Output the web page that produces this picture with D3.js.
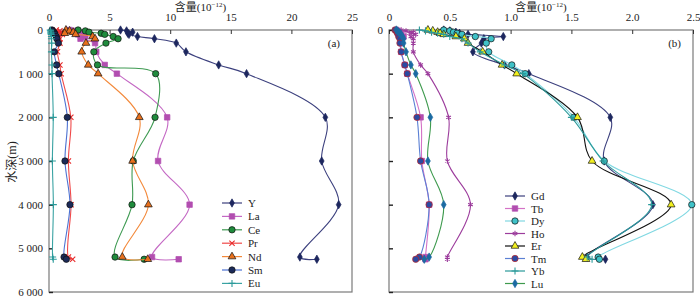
<!DOCTYPE html>
<html>
<head>
<meta charset="utf-8">
<script src="https://cdn.jsdelivr.net/npm/d3@7"></script>
<style>
  body { margin: 0; background: #fff; }
</style>
</head>
<body>
<svg id="chart" width="700" height="299"></svg>
<script>
// sampling depths (m)
const depths = [0, 20, 50, 75, 100, 150, 200, 300, 500, 800, 1000, 2000, 3000, 4000, 5200, 5250];

// panel (a) contents, 10^-12
const Y  = [5.9, 6.4, 6.9, 6.5, 6.6, 7.3, 8.7, 10.5, 11.3, 14.0, 16.3, 22.8, 22.5, 23.9, 20.7, 22.1];
const La = [1.7, 2.2, 2.5, 2.8, 2.4, 3.0, 2.6, 3.8, 3.9, 4.6, 5.6, 9.75, 9.0, 11.6, 8.5, 10.7];
const Ce = [2.4, 3.0, 3.3, 4.3, 4.6, 5.3, 5.7, 4.7, 3.7, 4.0, 8.8, 8.75, 6.95, 6.85, 5.45, 7.85];
const Pr = [0.6, 0.9, 1.0, 0.9, 1.1, 0.8, 0.9, 0.9, 0.7, 0.9, 1.0, 1.8, 1.6, 1.82, 1.6, 1.95];
const Nd = [1.4, 1.7, 2.0, 1.3, 2.2, 3.6, 3.8, 3.05, 2.7, 3.24, 4.05, 7.45, 6.9, 8.2, 6.05, 8.15];
const Sm = [0.25, 0.3, 0.4, 0.45, 0.5, 0.6, 0.65, 0.77, 0.44, 0.63, 0.8, 1.51, 1.32, 1.73, 1.24, 1.43];
const Eu = [0.1, 0.12, 0.15, 0.15, 0.18, 0.2, 0.2, 0.22, 0.2, 0.25, 0.25, 0.35, 0.28, 0.36, 0.3, 0.35];

// panel (b) contents, 10^-12
const Gd = [0.45, 0.5, 0.55, 0.58, 0.65, 0.94, 0.78, 0.76, 0.69, 0.95, 1.15, 1.82, 1.77, 2.17, 1.63, 1.78];
const Tb = [0.06, 0.07, 0.08, 0.09, 0.1, 0.12, 0.1, 0.1, 0.1, 0.13, 0.15, 0.26, 0.27, 0.33, 0.3, 0.3];
const Dy = [0.45, 0.5, 0.53, 0.56, 0.6, 0.71, 0.84, 0.8, 0.82, 1.01, 1.12, 1.52, 1.77, 2.49, 1.72, 1.73];
const Ho = [0.1, 0.14, 0.2, 0.17, 0.22, 0.18, 0.2, 0.2, 0.2, 0.26, 0.32, 0.49, 0.48, 0.67, 0.48, 0.48];
const Er = [0.32, 0.36, 0.4, 0.42, 0.45, 0.55, 0.62, 0.65, 0.77, 0.93, 1.05, 1.55, 1.67, 2.32, 1.59, 1.62];
const Tm = [0.05, 0.06, 0.07, 0.07, 0.08, 0.08, 0.09, 0.09, 0.1, 0.13, 0.15, 0.23, 0.26, 0.33, 0.25, 0.22];
const Yb = [0.25, 0.3, 0.35, 0.4, 0.45, 0.5, 0.6, 0.65, 0.75, 0.95, 1.1, 1.5, 1.76, 2.16, 1.63, 1.67];
const Lu = [0.06, 0.07, 0.08, 0.09, 0.1, 0.11, 0.12, 0.12, 0.14, 0.18, 0.22, 0.34, 0.32, 0.45, 0.33, 0.29];

const depthTicks = [0, 1000, 2000, 3000, 4000, 5000, 6000];
const ticksA = [0, 5, 10, 15, 20, 25];
const ticksB = [0, 0.5, 1.0, 1.5, 2.0, 2.5];

const FONT = "'Liberation Serif', 'DejaVu Serif', 'Times New Roman', 'Noto Sans CJK SC', serif";

const svg = d3.select("#chart");

const panels = [
    {
        tag: "(a)", x0: 49, x1: 352, max: 25, ticks: ticksA, fmt: d3.format("d"), depthLabels: true,
        legendX: 222, legendY: 203, legendStep: 13.4,
        series: [
            {name: "Y",  v: Y,  line: "#3c407e", fill: "#1d275e", stroke: "#1d275e", sym: d3.symbolDiamond, size: 20},
            {name: "La", v: La, line: "#c468c4", fill: "#b24eb0", stroke: "#b24eb0", sym: d3.symbolSquare, size: 30},
            {name: "Ce", v: Ce, line: "#3e9a52", fill: "#1f8b3c", stroke: "#111", sym: d3.symbolCircle, size: 32},
            {name: "Pr", v: Pr, line: "#f04a4a", fill: "none", stroke: "#e82a2a", sym: d3.symbolTimes, size: 20},
            {name: "Nd", v: Nd, line: "#f3893a", fill: "#e8701c", stroke: "#111", sym: d3.symbolTriangle, size: 26},
            {name: "Sm", v: Sm, line: "#4d72d2", fill: "#1b2a58", stroke: "#111", sym: d3.symbolCircle, size: 32},
            {name: "Eu", v: Eu, line: "#3aa3a3", fill: "none", stroke: "#2a9a9a", sym: d3.symbolPlus, size: 18}
        ]
    },
    {
        tag: "(b)", x0: 389, x1: 693, max: 2.5, ticks: ticksB, fmt: d => d === 0 ? "0" : d3.format(".1f")(d), depthLabels: false,
        legendX: 505, legendY: 196, legendStep: 12.5,
        series: [
            {name: "Gd", v: Gd, line: "#3c407e", fill: "#1d275e", stroke: "#1d275e", sym: d3.symbolDiamond, size: 20},
            {name: "Tb", v: Tb, line: "#d472c6", fill: "#b24eb0", stroke: "#b24eb0", sym: d3.symbolSquare, size: 30},
            {name: "Dy", v: Dy, line: "#80d8e2", fill: "#3fc2c8", stroke: "#111", sym: d3.symbolCircle, size: 32},
            {name: "Ho", v: Ho, line: "#9c3c9c", fill: "none", stroke: "#9c3c9c", sym: d3.symbolAsterisk, size: 20},
            {name: "Er", v: Er, line: "#111", fill: "#f2f020", stroke: "#111", sym: d3.symbolTriangle, size: 26},
            {name: "Tm", v: Tm, line: "#5b80d4", fill: "#2c4aa2", stroke: "#c42222", sym: d3.symbolCircle, size: 32},
            {name: "Yb", v: Yb, line: "#2b9a9a", fill: "none", stroke: "#2b9a9a", sym: d3.symbolPlus, size: 18},
            {name: "Lu", v: Lu, line: "#3e9a4e", fill: "#1b6aa2", stroke: "#1b6aa2", sym: d3.symbolDiamond, size: 20}
        ]
    }
];

const y = d3.scaleLinear().domain([0, 6000]).range([30, 292]);

const drawMarker = (g, s, cx, cy) => {
    g.append("path")
        .attr("d", d3.symbol().type(s.sym).size(s.size)())
        .attr("transform", "translate(" + cx + "," + cy + ")")
        .attr("fill", s.fill)
        .attr("stroke", s.stroke)
        .attr("stroke-width", s.fill === "none" ? 1.1 : 0.7);
};

panels.forEach(p => {
    const x = d3.scaleLinear().domain([0, p.max]).range([p.x0, p.x1]);
    const g = svg.append("g");

    // frame
    g.append("rect")
        .attr("x", p.x0).attr("y", 30)
        .attr("width", p.x1 - p.x0).attr("height", 292 - 30)
        .attr("fill", "none").attr("stroke", "#7a7a7a").attr("stroke-width", 1.2);

    // top axis
    const xa = g.append("g")
        .attr("transform", "translate(0,30)")
        .call(d3.axisTop(x).tickValues(p.ticks).tickFormat(p.fmt).tickSizeInner(-4).tickSizeOuter(0).tickPadding(9));
    xa.select(".domain").remove();
    xa.selectAll("line").attr("stroke", "#333");
    xa.selectAll("text").attr("font-size", 11).attr("fill", "#222");

    // depth axis
    const ya = g.append("g")
        .attr("transform", "translate(" + p.x0 + ",0)")
        .call(d3.axisLeft(y).tickValues(depthTicks)
            .tickFormat(d => (p.depthLabels || d === 0) ? d3.format(",")(d).replace(",", " ") : "")
            .tickSizeInner(-4).tickSizeOuter(0).tickPadding(6));
    ya.select(".domain").remove();
    ya.selectAll("line").attr("stroke", "#222").attr("stroke-width", 1.4);
    ya.selectAll("text").attr("font-size", 11).attr("fill", "#222");

    // title
    const t = g.append("text")
        .attr("x", (p.x0 + p.x1) / 2).attr("y", 11)
        .attr("text-anchor", "middle").attr("font-size", 11).attr("fill", "#222");
    t.append("tspan").text("含量(10");
    t.append("tspan").text("−12").attr("font-size", 7).attr("dy", -4);
    t.append("tspan").text(")").attr("dy", 4);

    g.append("text")
        .attr("x", p.x1 - 12).attr("y", 47)
        .attr("text-anchor", "end").attr("font-size", 11).attr("fill", "#222")
        .text(p.tag);

    // series
    const line = d3.line()
        .x(d => x(d[0]))
        .y(d => y(d[1]))
        .curve(d3.curveCatmullRom.alpha(0.5));

    p.series.forEach(s => {
        const pts = s.v.map((v, i) => [v, depths[i]]);
        g.append("path")
            .datum(pts)
            .attr("d", line)
            .attr("fill", "none")
            .attr("stroke", s.line)
            .attr("stroke-width", 1.1);
        pts.forEach(d => drawMarker(g, s, x(d[0]), y(d[1])));
    });

    // legend
    p.series.forEach((s, i) => {
        const ly = p.legendY + i * p.legendStep;
        g.append("line")
            .attr("x1", p.legendX).attr("x2", p.legendX + 20)
            .attr("y1", ly).attr("y2", ly)
            .attr("stroke", s.line).attr("stroke-width", 1.2);
        drawMarker(g, s, p.legendX + 10, ly);
        g.append("text")
            .attr("x", p.legendX + 26).attr("y", ly + 4)
            .attr("font-size", 11).attr("fill", "#222")
            .text(s.name);
    });
});

// depth label
svg.append("text")
    .attr("transform", "translate(16,162) rotate(-90)")
    .attr("text-anchor", "middle").attr("font-size", 12).attr("fill", "#222")
    .text("水深(m)");

svg.selectAll("text").attr("font-family", FONT);
svg.selectAll("g").attr("font-family", null);
</script>
</body>
</html>
